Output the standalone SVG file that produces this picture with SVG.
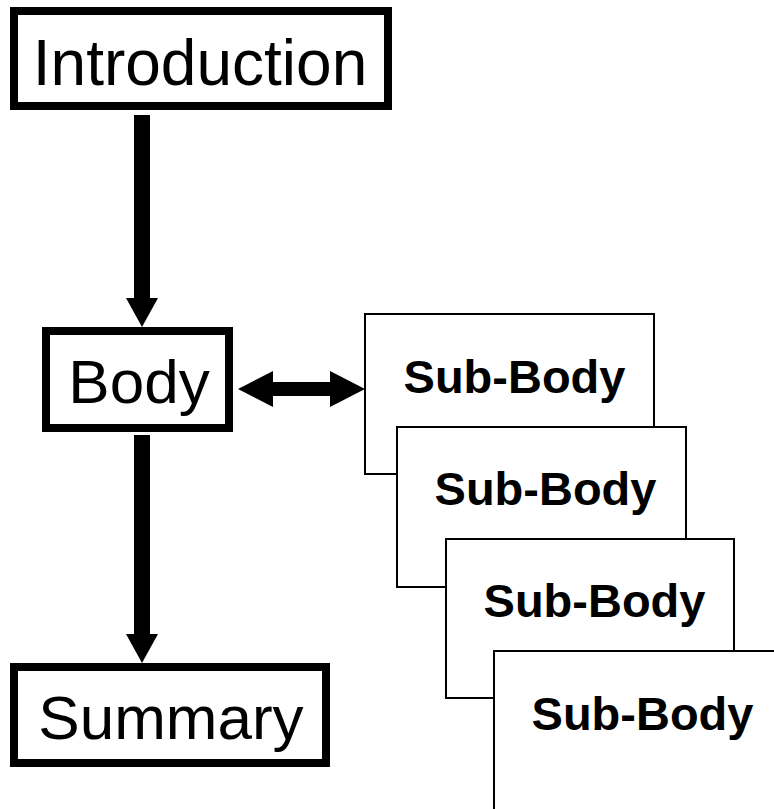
<svg xmlns="http://www.w3.org/2000/svg" width="774" height="809" viewBox="0 0 774 809">
<style>
.main{fill:#fff;stroke:#000;stroke-width:8}
.sub{fill:#fff;stroke:#000;stroke-width:2}
.t{font-family:"Liberation Sans",Arial,sans-serif;font-size:62px;fill:#000;text-anchor:middle}
.st{font-family:"Liberation Sans",Arial,sans-serif;font-size:47px;font-weight:bold;fill:#000;text-anchor:middle}
.v{stroke:#000;stroke-width:16;fill:none}
.h{stroke:#000;stroke-width:14;fill:none}
</style>
<defs>
<marker id="vh" markerUnits="userSpaceOnUse" viewBox="0 0 29 32" refX="0" refY="16" markerWidth="29" markerHeight="32" orient="auto-start-reverse"><path d="M0,0 L29,16 L0,32 Z" fill="#000"/></marker>
<marker id="hh" markerUnits="userSpaceOnUse" viewBox="0 0 35 36" refX="0" refY="18" markerWidth="35" markerHeight="36" orient="auto-start-reverse"><path d="M0,0 L35,18 L0,36 Z" fill="#000"/></marker>
</defs>
<rect width="774" height="809" fill="#fff"/>
<g id="introduction"><rect class="main" x="14" y="11" width="374" height="95"/><text class="t" x="200" y="85" style="font-size:64px">Introduction</text></g>
<g id="body"><rect class="main" x="46" y="331" width="183" height="97"/><text class="t" x="139" y="403">Body</text></g>
<g id="summary"><rect class="main" x="14" y="667" width="312" height="96"/><text class="t" x="171" y="739">Summary</text></g>
<g id="sub1"><rect class="sub" x="365" y="314" width="289" height="160"/><text class="st" x="514.5" y="393">Sub-Body</text></g>
<g id="sub2"><rect class="sub" x="397" y="427" width="289" height="160"/><text class="st" x="545.5" y="505">Sub-Body</text></g>
<g id="sub3"><rect class="sub" x="446" y="539" width="288" height="159"/><text class="st" x="594.5" y="617">Sub-Body</text></g>
<g id="sub4"><rect class="sub" x="494" y="651" width="289" height="160"/><text class="st" x="642.5" y="730">Sub-Body</text></g>
<g id="connectors">
<path class="v" d="M142,115 V298" marker-end="url(#vh)"/>
<path class="v" d="M142,435 V634" marker-end="url(#vh)"/>
<path class="h" d="M273,389 H330" marker-start="url(#hh)" marker-end="url(#hh)"/>
</g>
</svg>
